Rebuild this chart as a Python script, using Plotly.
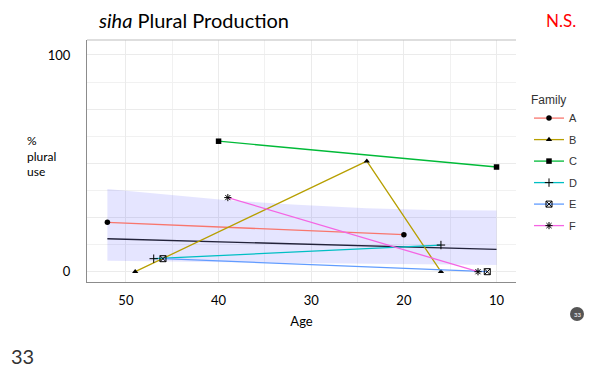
import plotly.graph_objects as go

# ---- data -------------------------------------------------------------
families = ["A", "B", "C", "D", "E", "F"]
ages = {
    "A": [52, 20],
    "B": [49, 24, 16],
    "C": [40, 10],
    "D": [47, 16],
    "E": [46, 11],
    "F": [39, 12],
}
plural_use = {
    "A": [22.8, 17.1],
    "B": [0, 51, 0],
    "C": [60.2, 48.3],
    "D": [6.0, 12.3],
    "E": [6.0, 0],
    "F": [34.2, 0],
}
line_colors = {
    "A": "#F8766D",
    "B": "#B79F00",
    "C": "#00BA38",
    "D": "#00BFC4",
    "E": "#619CFF",
    "F": "#F564E3",
}
symbols = {
    "A": "circle",
    "B": "triangle-up",
    "C": "square",
    "D": "cross-thin-open",
    "E": "square-x-open",
    "F": "asterisk-open",
}

# fitted trend and its band
fit_age = [52, 10]
fit_value = [15.2, 10.3]
band_age = [52, 45, 39, 32, 24, 17, 10]
band_upper = [38.2, 35.5, 33.0, 31.0, 29.3, 28.5, 28.2]
band_lower = [5.1, 4.8, 4.4, 4.0, 3.6, 3.3, 3.1]

x_ticks = [50, 40, 30, 20, 10]
y_ticks = [0, 25, 50, 75, 100]
y_ticktext = ["0", "", "", "", "100"]

# ---- figure -----------------------------------------------------------
W, H = 595, 371
L, R, T, B = 87, 516, 40, 282

fig = go.Figure()

fig.add_trace(go.Scatter(
    x=band_age + band_age[::-1],
    y=band_upper + band_lower[::-1],
    fill="toself", fillcolor="rgba(0,0,255,0.10)",
    line=dict(width=0), mode="lines", hoverinfo="skip", showlegend=False,
))
fig.add_trace(go.Scatter(
    x=fit_age, y=fit_value, mode="lines",
    line=dict(color="#22223a", width=1.3), showlegend=False,
))

for fam in families:
    open_sym = symbols[fam].endswith("open")
    fig.add_trace(go.Scatter(
        x=ages[fam], y=plural_use[fam], name=fam, legendgroup=fam,
        mode="lines+markers",
        line=dict(color=line_colors[fam], width=1.3),
        marker=dict(
            symbol=symbols[fam], color="black",
            size=6 if open_sym else 5.5,
            line=dict(color="black", width=1 if open_sym else 0),
        ),
    ))

grid = "#ebebeb"
fig.update_layout(
    width=W, height=H,
    margin=dict(l=L, r=W - R, t=T, b=H - B),
    paper_bgcolor="white", plot_bgcolor="white",
    font=dict(family="Lato, sans-serif", color="black"),
    xaxis=dict(
        range=[54.2, 7.9],
        tickvals=x_ticks, ticks="", ticklabelstandoff=6,
        tickfont=dict(size=13, family="Lato"),
        showgrid=True, gridcolor=grid, gridwidth=1,
        minor=dict(dtick=5, tick0=0, showgrid=True, gridcolor="#f1f1f1", gridwidth=1),
        showline=True, linecolor="#8c8c8c", linewidth=1,
        zeroline=False,
        title=dict(text="Age", font=dict(size=13, family="Lato"), standoff=10),
    ),
    yaxis=dict(
        range=[-4.75, 106.9],
        tickvals=y_ticks, ticktext=y_ticktext, ticks="",
        ticklabelstandoff=13,
        tickfont=dict(size=13, family="Lato"),
        showgrid=True, gridcolor=grid, gridwidth=1,
        minor=dict(dtick=12.5, tick0=0, showgrid=True, gridcolor="#f1f1f1", gridwidth=1),
        showline=True, linecolor="#8c8c8c", linewidth=1,
        zeroline=False,
    ),
    yaxis2=dict(
        range=[-4.75, 106.9], overlaying="y", side="right",
        tickvals=y_ticks, ticks="outside", ticklen=3, tickcolor="#8c8c8c",
        showticklabels=False, showgrid=False, zeroline=False,
        showline=True, linecolor="#bdbdbd", linewidth=1,
    ),
    legend=dict(
        title=dict(text="Family", font=dict(size=12, family="Liberation Sans", color="#333")),
        font=dict(size=11, family="Liberation Sans", color="#333"),
        x=(529 - L) / (R - L), xanchor="left",
        y=1 - (88 - T) / (B - T), yanchor="top",
        bgcolor="rgba(0,0,0,0)", itemwidth=30,
        tracegroupgap=2.5,
    ),
)

# top border of the panel
fig.add_shape(type="line", xref="paper", yref="paper", x0=0, x1=1, y0=1, y1=1,
              line=dict(color="#bdbdbd", width=1))


def px(x, y):
    return (x - L) / (R - L), 1 - (y - T) / (B - T)


def note(text, x, y, size, color="black", anchor="left", family="Lato"):
    ax, ay = px(x, y)
    fig.add_annotation(text=text, x=ax, y=ay, xref="paper", yref="paper",
                       xanchor=anchor, yanchor="middle", showarrow=False,
                       align="left", font=dict(size=size, color=color, family=family))


note("<i>siha</i> Plural Production", 96, 20, 20)
note("N.S.", 544, 20, 17, color="#ff0000")
note("%<br>plural<br>use", 25, 156, 12)
note("33", 9, 356, 20, color="#333333")

r = 7
fig.add_shape(type="circle", xref="paper", yref="paper",
              x0=(577 - r - L) / (R - L), x1=(577 + r - L) / (R - L),
              y0=1 - (314 + r - T) / (B - T), y1=1 - (314 - r - T) / (B - T),
              fillcolor="#555555", line=dict(width=0))
note("33", 577, 314, 6, color="white", anchor="center")

fig.write_html("out.html")
